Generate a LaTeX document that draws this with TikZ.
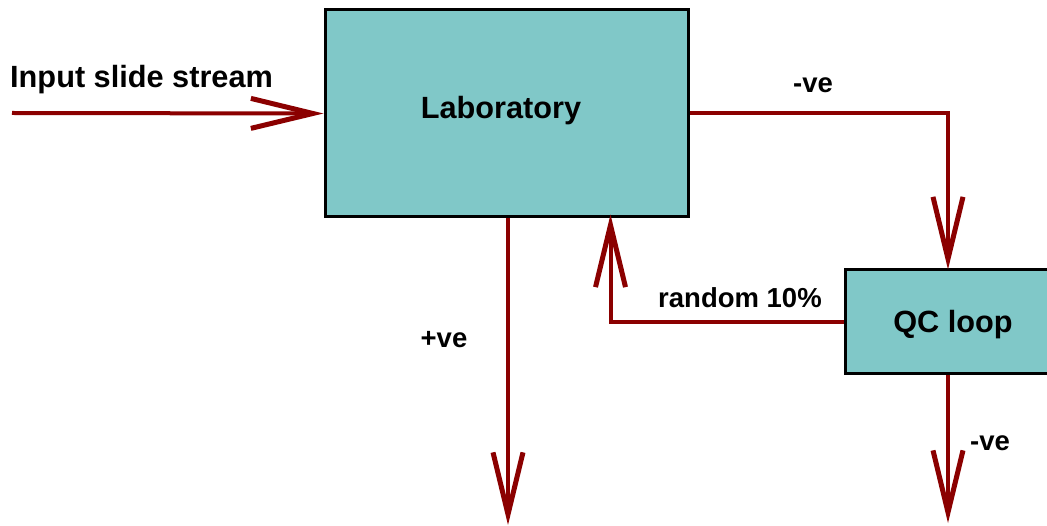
\documentclass[tikz,border=0pt]{standalone}
\usepackage{fontspec}
\setmainfont{Liberation Sans}
\usetikzlibrary{arrows.meta}
\definecolor{boxfill}{RGB}{128,200,200}
\definecolor{flowred}{RGB}{139,0,0}
\begin{document}
\begin{tikzpicture}[x=1pt,y=-1pt,
  stagebox/.style={draw=black,line width=3pt,fill=boxfill,inner sep=0pt},
  flow/.style={draw=flowred,line width=4pt,
    -{Straight Barb[length=62pt,width=30pt,line width=5pt,sharp]}},
  boxtext/.style={font=\bfseries\fontsize{30.7}{34}\selectfont,inner sep=0pt},
  edgetext/.style={font=\bfseries\fontsize{27.5}{31}\selectfont,inner sep=0pt}]
\useasboundingbox (0,0) rectangle (1047,526);
\clip (0,0) rectangle (1047,526);

% process boxes
\node[stagebox,minimum width=363pt,minimum height=207pt] (lab) at (506.5,113.5) {};
\node[boxtext,anchor=base] (labtext) at (501,119) {Laboratory};
\node[stagebox,minimum width=216pt,minimum height=104pt] (qc) at (953,322) {};
\node[boxtext,anchor=base] (qctext) at (953,333) {QC loop};

% free ends of the flows
\coordinate (in) at (12,113);
\coordinate (posout) at (508,525);
\coordinate (qcout) at (948,523);

% flows
\draw[flow] (in) -- (lab.west);
\draw[flow] (lab.east) -| ([xshift=-5pt,yshift=-1pt]qc.north);
\draw[flow] (lab.south -| posout) -- (posout);
\draw[flow] (qc.west) -| ([xshift=104pt,yshift=4pt]lab.south);
\draw[flow] (qc.south -| qcout) -- (qcout);

% labels
\node[boxtext,anchor=base west] (inlabel) at (10,88) {Input slide stream};
\node[edgetext] (neglabel) at (813,85) {-ve};
\node[edgetext] (poslabel) at (444,340) {+ve};
\node[edgetext] (randlabel) at (740,298) {random 10\%};
\node[edgetext] (qcneglabel) at (990,443) {-ve};
\end{tikzpicture}
\end{document}
